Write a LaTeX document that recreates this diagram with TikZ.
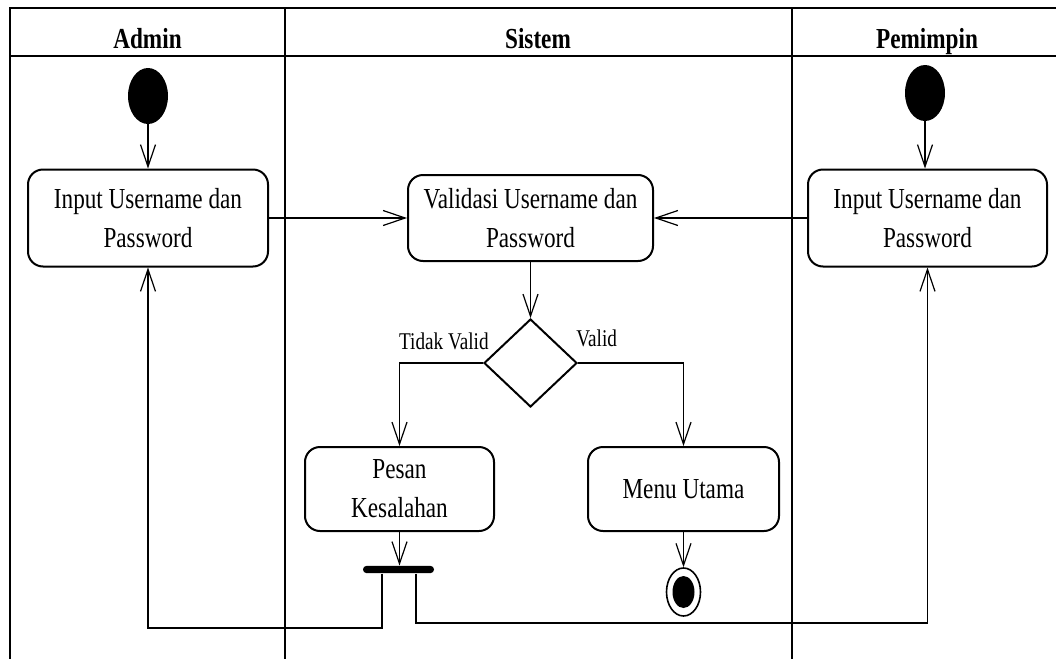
\documentclass[tikz,border=0pt]{standalone}
\usepackage{fontspec}
\setmainfont{Liberation Serif}[FakeStretch=0.8]
\usetikzlibrary{shapes.geometric,arrows.meta,calc}
\begin{document}
\begin{tikzpicture}[x=0.5pt,y=-0.5pt,
  lane/.style={line width=0.8pt},
  hdr/.style={font=\fontsize{14.5}{17}\selectfont\bfseries,anchor=base},
  act/.style={draw,line width=1pt,rounded corners=7.5pt,align=center,inner sep=0pt,
    font=\fontsize{14.5}{19.5}\selectfont},
  lbl/.style={font=\fontsize{12}{14}\selectfont,inner sep=0pt},
  arr/.style={line width=0.75pt,-{Straight Barb[length=11pt,width=7.5pt,line width=0.6pt]}},
  startnode/.style={ellipse,fill=black,minimum width=20pt,minimum height=28pt,inner sep=0pt},
]
\useasboundingbox (0,0) rectangle (1056,659);
% swimlanes
\draw[lane] (10,659) -- (10,8) -- (1056,8);
\draw[lane] (10,56) -- (1056,56);
\draw[lane] (285,8) -- (285,659);
\draw[lane] (792,8) -- (792,659);
\node[hdr] (hA) at (147.5,48) {Admin};
\node[hdr] (hS) at (538,48) {Sistem};
\node[hdr] (hP) at (927,48) {Pemimpin};
% nodes
\node[startnode] (s1) at (148,96) {};
\node[startnode] (s2) at (925,93) {};
\node[act,minimum width=120pt,minimum height=48.5pt] (a1) at (148,218) {Input Username dan\\Password};
\node[act,minimum width=122.5pt,minimum height=43pt] (v) at (530.5,218) {Validasi Username dan\\Password};
\node[act,minimum width=119.5pt,minimum height=48.5pt] (p1) at (927.5,218) {Input Username dan\\Password};
\node[diamond,draw,line width=1pt,minimum width=46.5pt,minimum height=44pt,inner sep=0pt] (d) at (530.5,363) {};
\node[lbl,anchor=east] (tv) at (489,341) {Tidak Valid};
\node[lbl,anchor=west] (vl) at (576,338) {Valid};
\node[act,minimum width=94.5pt,minimum height=42pt] (ps) at (399.5,489) {Pesan\\Kesalahan};
\node[act,minimum width=95.5pt,minimum height=42pt] (mu) at (683.5,489) {Menu Utama};
\node[fill=black,rounded corners=1.75pt,minimum width=35.5pt,minimum height=3.6pt,inner sep=0pt] (bar) at (398.5,569.5) {};
\node[ellipse,draw,line width=0.8pt,minimum width=17pt,minimum height=24pt,inner sep=0pt] (f) at (683.5,592) {};
\node[ellipse,fill=black,minimum width=11pt,minimum height=16pt,inner sep=0pt] (fi) at (683.5,592) {};
% connectors
\draw[arr] (s1.south) -- (a1.north);
\draw[arr] (s2.south) -- (s2.south |- p1.north);
\draw[arr] (a1.east) -- (v.west);
\draw[arr] (p1.west) -- (v.east);
\draw[arr] (v.south) -- (d.north);
\draw[arr] (d.west) -| (ps.north);
\draw[arr] (d.east) -| (mu.north);
\draw[arr] (ps.south) -- (ps.south |- bar.north);
\draw[arr] (mu.south) -- (f.north);
\coordinate (b1) at (382,628);
\coordinate (b2) at (416,623);
\draw[arr] (bar.south -| b1) -- (b1) -| (a1.south);
\draw[arr] (bar.south -| b2) -- (b2) -| (p1.south);
\end{tikzpicture}
\end{document}
